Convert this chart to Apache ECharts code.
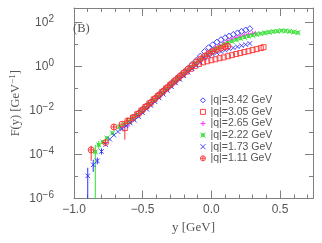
<!DOCTYPE html>
<html><head><meta charset="utf-8">
<script src="https://cdn.jsdelivr.net/npm/echarts@6/dist/echarts.min.js"></script>
<style>html,body{margin:0;padding:0;background:#fff}#c{width:322px;height:243px}</style>
</head><body><div id="c"></div>
<script>
// ---- tick values ----
const xMajorTicks = [-1, -0.5, 0, 0.5];
const xMinorTicks = [-0.9, -0.8, -0.7, -0.6, -0.4, -0.3, -0.2, -0.1, 0.1, 0.2, 0.3, 0.4, 0.6, 0.7];
const yMajorTicks = [1e-6, 1e-4, 1e-2, 1, 1e2];
const yMinorTicks = [1e-5, 1e-3, 1e-1, 1e1];

// ---- series names ----
const names = ['|q|=3.42 GeV', '|q|=3.05 GeV', '|q|=2.65 GeV', '|q|=2.22 GeV', '|q|=1.73 GeV', '|q|=1.11 GeV'];

// |q| = 3.42 GeV
const y342 = [-0.56, -0.53, -0.50, -0.47, -0.44, -0.41, -0.38, -0.35, -0.32, -0.29, -0.26, -0.23, -0.20, -0.17, -0.14, -0.11, -0.08, -0.05, -0.02, 0.01, 0.04, 0.07, 0.10, 0.13, 0.16, 0.19, 0.22, 0.25, 0.28];
const f342 = [5.0e-3, 7.6e-3, 1.12e-2, 1.66e-2, 2.45e-2, 3.6e-2, 5.4e-2, 7.9e-2, 0.117, 0.174, 0.257, 0.38, 0.56, 0.83, 1.26, 1.9, 3.0, 4.8, 7.2, 9.8, 12.9, 16.6, 20.4, 24.5, 28.8, 33.9, 39.8, 45.7, 52.5];

// |q| = 3.05 GeV
const y305 = [-0.63, -0.60, -0.57, -0.54, -0.51, -0.48, -0.45, -0.42, -0.39, -0.36, -0.33, -0.30, -0.27, -0.24, -0.21, -0.18, -0.15, -0.12, -0.09, -0.06, -0.03, 0.00, 0.03, 0.06, 0.09, 0.12, 0.15, 0.18, 0.21, 0.24, 0.27, 0.30, 0.33, 0.36, 0.38];
const f305 = [1.58e-3, 3.3e-3, 4.7e-3, 6.8e-3, 9.8e-3, 1.45e-2, 2.1e-2, 3.2e-2, 4.6e-2, 6.8e-2, 0.10, 0.145, 0.21, 0.30, 0.43, 0.59, 0.79, 1.05, 1.32, 1.55, 1.74, 1.95, 2.14, 2.4, 2.6, 2.95, 3.3, 3.7, 4.1, 4.6, 5.0, 5.6, 6.2, 6.9, 7.6];

// |q| = 2.65 GeV
const y265 = [-0.66, -0.61, -0.57, -0.54, -0.51, -0.48, -0.45, -0.42, -0.39, -0.36, -0.33, -0.30, -0.27, -0.24, -0.21, -0.18, -0.15, -0.12, -0.09, -0.06, -0.03, 0.00, 0.03, 0.06, 0.09, 0.12, 0.15, 0.18, 0.21, 0.24, 0.27, 0.30, 0.32];
const f265 = [1.58e-3, 2.0e-3, 4.0e-3, 5.8e-3, 8.3e-3, 1.23e-2, 1.82e-2, 2.7e-2, 4.0e-2, 5.9e-2, 8.7e-2, 0.129, 0.19, 0.28, 0.42, 0.62, 0.91, 1.35, 2.0, 2.8, 4.0, 5.5, 7.2, 9.5, 12, 14.8, 17.8, 20.9, 24, 26.9, 29.5, 31.6, 33.1];

// |q| = 2.22 GeV
const y222 = [-0.845, -0.82, -0.79, -0.76, -0.72, -0.67, -0.63, -0.60, -0.57, -0.54, -0.51, -0.48, -0.45, -0.42, -0.39, -0.36, -0.33, -0.30, -0.27, -0.24, -0.21, -0.18, -0.15, -0.12, -0.09, -0.06, -0.03, 0.00, 0.03, 0.06, 0.09, 0.12, 0.15, 0.18, 0.21, 0.24, 0.27, 0.30, 0.33, 0.36, 0.39, 0.42, 0.45, 0.48, 0.51, 0.54, 0.57, 0.60, 0.63];
const f222 = [1.32e-4, 2.75e-4, 3.7e-4, 5.6e-4, 9.5e-4, 1.82e-3, 2.4e-3, 3.2e-3, 4.4e-3, 6.3e-3, 9.1e-3, 1.35e-2, 2.0e-2, 2.95e-2, 4.3e-2, 6.3e-2, 9.3e-2, 0.138, 0.20, 0.295, 0.43, 0.63, 0.91, 1.35, 1.9, 2.6, 3.55, 4.6, 6.0, 7.9, 10, 12, 14.1, 16.6, 19, 21.4, 24, 26.3, 28.8, 31.6, 33.9, 36.3, 38.9, 40.7, 42.7, 41.7, 39.8, 37.2, 34.7];

// |q| = 1.73 GeV
const y173 = [-0.90, -0.86, -0.83, -0.80, -0.77, -0.74, -0.71, -0.68, -0.65, -0.62, -0.59, -0.56, -0.53, -0.50, -0.47, -0.44, -0.41, -0.38, -0.35, -0.32, -0.29, -0.26, -0.23, -0.20, -0.17, -0.14, -0.11, -0.08, -0.05, -0.02, 0.01, 0.04, 0.07, 0.10, 0.13, 0.16, 0.19, 0.22, 0.25, 0.28];
const f173 = [1.07e-5, 3.4e-5, 5.1e-5, 1.38e-4, 2.8e-4, 5.0e-4, 7.6e-4, 1.1e-3, 1.5e-3, 2.0e-3, 2.7e-3, 3.6e-3, 5.2e-3, 7.8e-3, 1.15e-2, 1.7e-2, 2.5e-2, 3.7e-2, 5.5e-2, 8.1e-2, 0.12, 0.178, 0.26, 0.38, 0.55, 0.79, 1.12, 1.58, 2.4, 3.0, 3.6, 4.2, 4.8, 5.5, 6.3, 7.1, 7.9, 8.9, 10, 11.2];

// |q| = 1.11 GeV
const y111 = [-0.875, -0.77, -0.71, -0.65, -0.61, -0.57, -0.53, -0.50, -0.47, -0.44, -0.41, -0.38, -0.35, -0.32, -0.29, -0.26, -0.23, -0.20, -0.17, -0.14, -0.11, -0.08, -0.05, -0.02, 0.01, 0.04, 0.07, 0.10, 0.12];
const f111 = [1.62e-4, 3.5e-4, 1.78e-3, 2.4e-3, 3.4e-3, 4.8e-3, 7.2e-3, 1.1e-2, 1.58e-2, 2.3e-2, 3.5e-2, 5.1e-2, 7.6e-2, 0.112, 0.166, 0.245, 0.36, 0.52, 0.76, 1.1, 1.58, 2.2, 2.95, 3.9, 4.9, 5.9, 6.9, 7.9, 8.5];

// ---- error bars: y, low, high ----
const err173Y = [-0.90, -0.86, -0.83, -0.80];
const err173Lo = [1e-6, 1.62e-5, 3.6e-5, 1.0e-4];
const err173Hi = [2.5e-5, 5.75e-5, 7.2e-5, 1.9e-4];
const err222Y = [-0.845, -0.82, -0.67];
const err222Lo = [1e-6, 1.8e-4, 1.3e-3];
const err222Hi = [2.75e-4, 4.2e-4, 2.6e-3];
const err111Y = [-0.875, -0.77, -0.71];
const err111Lo = [5.1e-5, 2.5e-4, 1.3e-3];
const err111Hi = [2.5e-4, 5.0e-4, 2.4e-3];
const err305Y = [-0.63];
const err305Lo = [4.7e-4];
const err305Hi = [3.2e-3];

const BLUE = '#3030ff', RED = '#ff3030', MAG = '#ff30ff', GRN = '#30e030';
const TXT = '#555', AX = '#808080';
const colors = [BLUE, RED, MAG, GRN, BLUE, RED];

const SYM = {
  diamond: 'diamond',
  square: 'rect',
  plus: 'path://M5,0L5,10M0,5L10,5M3.5,3.5L6.5,6.5M6.5,3.5L3.5,6.5',
  boxx: 'path://M0,0L10,10M10,0L0,10M2.5,2.5L7.5,2.5L7.5,7.5L2.5,7.5Z',
  cross: 'path://M0,0L10,10M10,0L0,10',
  oplus: 'path://M0,5A5,5 0 1 1 10,5A5,5 0 1 1 0,5ZM5,0L5,10M0,5L10,5'
};
const symList = [SYM.diamond, SYM.square, SYM.plus, SYM.boxx, SYM.cross, SYM.oplus];

function pts(ys, fs) { return ys.map((y, i) => [y, fs[i]]); }
function errPts(ys, lo, hi) { return ys.map((y, i) => [y, lo[i], hi[i]]); }

function scat(name, ys, fs, sym, color, size) {
  return {
    type: 'scatter', name: name, data: pts(ys, fs), symbol: sym, symbolSize: size,
    itemStyle: { color: 'rgba(0,0,0,0)', borderColor: color, borderWidth: 0.9, opacity: 1 },
    emphasis: { disabled: true }, z: 3
  };
}
function errs(ys, lo, hi, color) {
  return {
    type: 'custom', data: errPts(ys, lo, hi), z: 2, silent: true,
    renderItem: function (params, api) {
      const a = api.coord([api.value(0), api.value(1)]);
      const b = api.coord([api.value(0), api.value(2)]);
      return { type: 'line', shape: { x1: a[0], y1: a[1], x2: b[0], y2: b[1] }, style: { stroke: color, lineWidth: 1 } };
    }
  };
}

const xFmt = v => (v < 0 ? '\u2212' : '') + Math.abs(v).toFixed(1);
const yFmt = v => { const e = Math.round(Math.log10(v)); return '{b|10}{s|' + (e < 0 ? '\u2212' : '') + Math.abs(e) + '}'; };

const XMIN = -1, XMAX = 0.74, YMIN = 1e-6, YMAX = 460;
function xAx(pos, ticks, len, labels, line) {
  return {
    type: 'value', position: pos, min: XMIN, max: XMAX,
    axisLine: { show: line, onZero: false, lineStyle: { color: AX, width: 1 } },
    axisTick: { show: true, inside: true, length: len, customValues: ticks, lineStyle: { color: AX } },
    axisLabel: labels ? { show: true, customValues: ticks, formatter: xFmt, color: TXT, fontFamily: 'Liberation Sans', fontSize: 12, margin: 5 } : { show: false },
    splitLine: { show: false }
  };
}
function yAx(pos, ticks, len, labels, line) {
  return {
    type: 'log', logBase: 10, position: pos, min: YMIN, max: YMAX,
    axisLine: { show: line, onZero: false, lineStyle: { color: AX, width: 1 } },
    axisTick: { show: true, inside: true, length: len, customValues: ticks, lineStyle: { color: AX } },
    axisLabel: labels ? {
      show: true, customValues: ticks, formatter: yFmt, margin: 20,
      rich: {
        b: { fontSize: 12, fontFamily: 'Liberation Sans', color: TXT },
        s: { fontSize: 10, fontFamily: 'Liberation Sans', color: TXT, padding: [0, 0, 7, 0] }
      }
    } : { show: false },
    splitLine: { show: false }
  };
}

const xAxes = [xAx('bottom', xMajorTicks, 8, true, true), xAx('bottom', xMinorTicks, 4, false, false),
               xAx('top', xMajorTicks, 8, false, true), xAx('top', xMinorTicks, 4, false, false)];
xAxes[0].name = 'y [GeV]';
xAxes[0].nameLocation = 'middle';
xAxes[0].nameGap = 23;
xAxes[0].nameTextStyle = { fontFamily: 'Liberation Serif', fontSize: 13, color: TXT };

const yAxes = [yAx('left', yMinorTicks, 4, false, true), yAx('left', yMajorTicks, 8, true, false),
               yAx('right', yMajorTicks, 8, false, true), yAx('right', yMinorTicks, 4, false, false)];
yAxes[0].name = 'F(y) [GeV{s|\u22121}]';
yAxes[0].nameLocation = 'middle';
yAxes[0].nameGap = 51;
yAxes[0].nameTextStyle = {
  fontFamily: 'Liberation Serif', fontSize: 12.5, color: TXT,
  rich: { s: { fontFamily: 'Liberation Serif', fontSize: 9, color: TXT, padding: [0, 0, 6, 0] } }
};

const legendData = names.map((n, i) => ({
  name: n, icon: symList[i],
  itemStyle: { color: 'rgba(0,0,0,0)', borderColor: colors[i], borderWidth: 0.9 }
}));

const chart = echarts.init(document.getElementById('c'), null, { renderer: 'canvas' });
chart.setOption({
  animation: false,
  backgroundColor: '#fff',
  grid: { left: 62, right: 9, top: 8, bottom: 44.5, containLabel: false },
  title: { text: '(B)', left: 73, top: 22, padding: 0, textStyle: { fontFamily: 'Liberation Serif', fontSize: 12.5, fontWeight: 'normal', color: TXT } },
  legend: {
    orient: 'vertical', left: 200, top: 94.5, padding: 0, itemWidth: 5, itemHeight: 5, itemGap: 0,
    data: legendData,
    textStyle: { fontFamily: 'Liberation Sans', fontSize: 10.5, color: TXT, lineHeight: 11.6 },
    selectedMode: false
  },
  xAxis: xAxes,
  yAxis: yAxes,
  series: [
    errs(err305Y, err305Lo, err305Hi, RED),
    errs(err222Y, err222Lo, err222Hi, GRN),
    errs(err173Y, err173Lo, err173Hi, BLUE),
    errs(err111Y, err111Lo, err111Hi, RED),
    scat(names[0], y342, f342, SYM.diamond, BLUE, 6),
    scat(names[1], y305, f305, SYM.square, RED, 5),
    scat(names[2], y265, f265, SYM.plus, MAG, 5),
    scat(names[3], y222, f222, SYM.boxx, GRN, 5),
    scat(names[4], y173, f173, SYM.cross, BLUE, 4.5),
    scat(names[5], y111, f111, SYM.oplus, RED, 6)
  ]
});
</script></body></html>
